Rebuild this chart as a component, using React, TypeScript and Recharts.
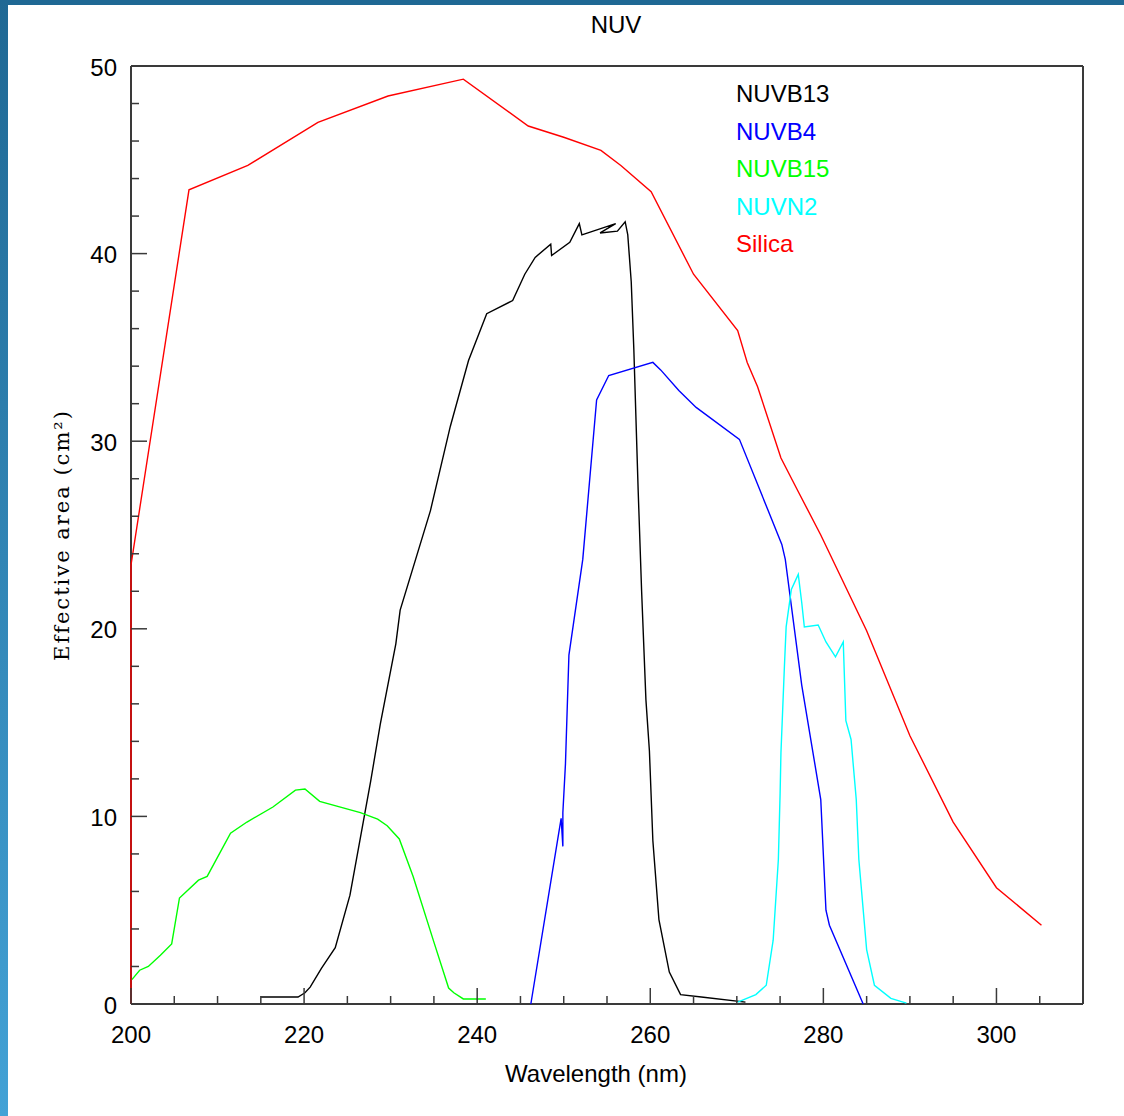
import { LineChart, Line, XAxis, YAxis, Legend } from "recharts";

// wavelength (nm), effective area (cm^2) pairs
const silica: [number, number][] = [
  [200, 0], [200, 23.4], [206.7, 43.4], [213.5, 44.7], [221.6, 47.0], [229.7, 48.4],
  [238.4, 49.3], [245.9, 46.8], [250, 46.2], [254.3, 45.5], [256.6, 44.7], [260.1, 43.3],
  [265, 38.9], [270.1, 35.9], [271.2, 34.2], [272.4, 32.9], [275.1, 29.1], [277, 27.4],
  [279.7, 25.0], [285, 19.9], [290, 14.3], [295, 9.7], [300, 6.2], [305.2, 4.2],
];

const nuvb13: [number, number][] = [
  [215, 0.37], [219.3, 0.37], [220.1, 0.6], [220.7, 0.9], [222, 1.9], [223.6, 3.0],
  [225.3, 5.8], [227.7, 11.9], [228.8, 14.9], [230.6, 19.2], [231.1, 21.0], [234.6, 26.3],
  [236.9, 30.8], [239, 34.3], [241.1, 36.8], [244.1, 37.5], [245.5, 38.9], [246.7, 39.8],
  [248.5, 40.5], [248.6, 39.9], [250.7, 40.6], [251.8, 41.6], [252.1, 41.0], [256, 41.6],
  [254.2, 41.1], [256.2, 41.2], [257.1, 41.7], [257.4, 41.0], [257.8, 38.5], [258.1, 34.9],
  [258.6, 27.4], [259, 22.0], [259.5, 16.2], [259.9, 13.5], [260.3, 8.7], [261, 4.5],
  [262.2, 1.7], [263.5, 0.5], [265.9, 0.37], [271, 0.1],
];

const nuvb4: [number, number][] = [
  [246.2, 0], [249.7, 9.9], [249.9, 8.4], [249.9, 10.2], [250.2, 12.8], [250.6, 18.6],
  [252.2, 23.7], [253.8, 32.2], [255.2, 33.5], [260.3, 34.2], [261.2, 33.8], [263.3, 32.7],
  [265.3, 31.8], [270.3, 30.1], [275.2, 24.5], [275.6, 23.7], [277.5, 17.0], [279.7, 10.9],
  [280.3, 5.0], [280.7, 4.2], [284.6, 0],
];

const nuvb15: [number, number][] = [
  [200.1, 1.3], [201, 1.8], [202, 2.0], [203.4, 2.6], [204.7, 3.2], [205.6, 5.65],
  [207.8, 6.6], [208.8, 6.8], [211.5, 9.1], [213.4, 9.7], [216.4, 10.5], [219, 11.4],
  [220.1, 11.46], [221.8, 10.8], [226.5, 10.2], [228.5, 9.85], [229.6, 9.5], [231, 8.8],
  [232.6, 6.8], [235, 3.3], [236.7, 0.85], [237.3, 0.6], [238.4, 0.27], [241, 0.27],
];

const nuvn2: [number, number][] = [
  [270.1, 0.1], [272.2, 0.5], [273.4, 1.0], [274.2, 3.4], [274.8, 7.7], [275, 11.2],
  [275.1, 13.4], [275.3, 15.7], [275.5, 18.0], [275.7, 20.1], [276.3, 22.1], [277.1, 22.9],
  [277.5, 21.4], [277.8, 20.1], [279.4, 20.2], [280.3, 19.3], [281.4, 18.5], [282.3, 19.3],
  [282.6, 15.1], [283.2, 14.1], [283.8, 10.9], [284.1, 7.7], [285, 2.9], [285.9, 1.0],
  [287.8, 0.3], [289.6, 0.05],
];

const xTicks = Array.from({ length: 23 }, (_, i) => 200 + i * 5);
const yTicks = Array.from({ length: 26 }, (_, i) => i * 2);

const series = [
  { name: "NUVB13", color: "#000000", points: nuvb13 },
  { name: "NUVB4", color: "#0000ff", points: nuvb4 },
  { name: "NUVB15", color: "#00ff00", points: nuvb15 },
  { name: "NUVN2", color: "#00ffff", points: nuvn2 },
  { name: "Silica", color: "#ff0000", points: silica },
];
const legendOrder = series.map((s) => s.name);

const AXIS = "#3a3a3a";
const SANS = "'Liberation Sans', Arial, sans-serif";

const XTick = (props: any) => {
  const { x, y, payload, dir, showLabel } = props;
  const major = payload.value % 20 === 0;
  const len = major ? 16 : 8;
  return (
    <g>
      <line x1={x} x2={x} y1={y} y2={y - dir * len} stroke={AXIS} strokeWidth={1.5} />
      {showLabel && major && (
        <text x={x} y={y + 30} textAnchor="middle" dominantBaseline="central"
          fontFamily={SANS} fontSize={24} fill="#000">
          {payload.value}
        </text>
      )}
    </g>
  );
};

const YTick = (props: any) => {
  const { x, y, payload, dir, showLabel } = props;
  const major = payload.value % 10 === 0;
  const len = major ? 16 : 8;
  return (
    <g>
      <line x1={x} x2={x + dir * len} y1={y} y2={y} stroke={AXIS} strokeWidth={1.5} />
      {showLabel && major && (
        <text x={x - 14} y={y + 1} textAnchor="end" dominantBaseline="central"
          fontFamily={SANS} fontSize={24} fill="#000">
          {payload.value}
        </text>
      )}
    </g>
  );
};

const LegendBox = (props: any) => {
  const items = [...(props.payload || [])].sort(
    (a: any, b: any) => legendOrder.indexOf(a.value) - legendOrder.indexOf(b.value)
  );
  return (
    <div style={{ fontFamily: SANS, fontSize: 24, lineHeight: "37.5px" }}>
      {items.map((p: any) => (
        <div key={p.value} style={{ color: p.color }}>{p.value}</div>
      ))}
    </div>
  );
};

export default function App() {
  return (
    <div style={{ position: "fixed", left: 0, top: 0, width: 1124, height: 1116, background: "#fff", overflow: "hidden" }}>
      <div style={{ position: "absolute", left: 0, top: 0, width: 1124, height: 5, background: "#1f6894" }} />
      <div style={{ position: "absolute", left: 0, top: 0, width: 8, height: 1116, background: "linear-gradient(#1f6894, #43a2d6)" }} />
      <div style={{ position: "absolute", left: 0, top: 0 }}>
        <LineChart width={1124} height={1116} margin={{ top: 56, right: 31, bottom: 72, left: 71 }}>
          <XAxis dataKey="x" type="number" domain={[200, 310]} ticks={xTicks} interval={0}
            height={40} tickSize={0} tickMargin={0} tickLine={false}
            axisLine={{ stroke: AXIS, strokeWidth: 2 }}
            tick={(p: any) => <XTick {...p} dir={1} showLabel />} />
          <XAxis xAxisId="top" orientation="top" dataKey="x" type="number" domain={[200, 310]}
            ticks={xTicks} interval={0} height={10} tickSize={0} tickMargin={0} tickLine={false}
            axisLine={{ stroke: AXIS, strokeWidth: 2 }}
            tick={(p: any) => <XTick {...p} dir={-1} showLabel={false} />} />
          <YAxis type="number" domain={[0, 50]} ticks={yTicks} interval={0} width={60}
            tickSize={0} tickMargin={0} tickLine={false}
            axisLine={{ stroke: AXIS, strokeWidth: 2 }}
            tick={(p: any) => <YTick {...p} dir={1} showLabel />} />
          <YAxis yAxisId="right" orientation="right" type="number" domain={[0, 50]} ticks={yTicks}
            interval={0} width={10} tickSize={0} tickMargin={0} tickLine={false}
            axisLine={{ stroke: AXIS, strokeWidth: 2 }}
            tick={(p: any) => <YTick {...p} dir={-1} showLabel={false} />} />
          {series.map((s) => (
            <Line key={s.name} name={s.name} data={s.points.map(([x, y]) => ({ x, y }))}
              dataKey="y" type="linear" stroke={s.color} strokeWidth={1.4} dot={false}
              activeDot={false} isAnimationActive={false} zIndex={600} />
          ))}
          <Legend layout="vertical" align="center" verticalAlign="middle" content={<LegendBox />}
            itemSorter={null}
            wrapperStyle={{ position: "absolute", left: 736, top: 75, width: 200, height: 190 }} />
        </LineChart>
      </div>
      <div style={{ position: "absolute", left: 516, top: 10, width: 200, textAlign: "center", fontFamily: SANS, fontSize: 24, lineHeight: "30px" }}>NUV</div>
      <div style={{ position: "absolute", left: 396, top: 1059, width: 400, textAlign: "center", fontFamily: SANS, fontSize: 24, lineHeight: "30px" }}>Wavelength (nm)</div>
      <div style={{ position: "absolute", left: 62, top: 535, width: 0, height: 0 }}>
        <div style={{ position: "absolute", left: -200, top: -15, width: 400, textAlign: "center", transform: "rotate(-90deg)", fontFamily: "'DejaVu Serif', serif", fontSize: 21, letterSpacing: 2, lineHeight: "30px", whiteSpace: "nowrap" }}>
          Effective area (cm²)
        </div>
      </div>
    </div>
  );
}
